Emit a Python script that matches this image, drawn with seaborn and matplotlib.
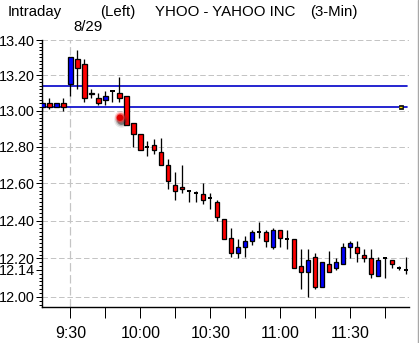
import matplotlib
matplotlib.use("Agg")
import numpy as np
import pandas as pd
import matplotlib.pyplot as plt
import seaborn as sns
from matplotlib.ticker import FixedLocator, FixedFormatter, NullFormatter
from matplotlib.lines import Line2D

# ---------------- data ----------------
times = ["9:18", "9:21", "9:24", "9:27",
         "9:30", "9:33", "9:36", "9:39", "9:42", "9:45", "9:48", "9:51", "9:54", "9:57",
         "10:00", "10:03", "10:06", "10:09", "10:12", "10:15", "10:18", "10:21", "10:24", "10:27",
         "10:30", "10:33", "10:36", "10:39", "10:42", "10:45", "10:48", "10:51", "10:54", "10:57",
         "11:00", "11:03", "11:06", "11:09", "11:12", "11:15", "11:18", "11:21", "11:24", "11:27",
         "11:30", "11:33", "11:36", "11:39", "11:42", "11:45", "11:48", "11:51", "11:54"]
opens = [13.02, 13.04, 13.02, 13.04,
         13.15, 13.29, 13.26, 13.10, 13.07, 13.06, 13.11, 13.10, 13.08, 12.93,
         12.87, 12.80, 12.81, 12.77, 12.70, 12.59, 12.58, 12.56, 12.55, 12.54,
         12.52, 12.50, 12.41, 12.31, 12.23, 12.26, 12.29, 12.34, 12.34, 12.26,
         12.35, 12.30, 12.30, 12.16, 12.13, 12.21, 12.05, 12.17, 12.15, 12.17,
         12.26, 12.26, 12.22, 12.20, 12.11, 12.20, 12.19, 12.15, 12.14]
highs = [13.06, 13.07, 13.04, 13.07,
         13.30, 13.34, 13.29, 13.12, 13.10, 13.11, 13.11, 13.19, 13.08, 12.93,
         12.87, 12.83, 12.84, 12.85, 12.73, 12.66, 12.70, 12.56, 12.56, 12.60,
         12.55, 12.51, 12.41, 12.36, 12.30, 12.32, 12.35, 12.39, 12.35, 12.36,
         12.35, 12.35, 12.30, 12.25, 12.25, 12.23, 12.18, 12.24, 12.20, 12.28,
         12.29, 12.29, 12.25, 12.25, 12.21, 12.20, 12.19, 12.16, 12.21]
lows = [13.00, 13.01, 13.02, 13.00,
        13.08, 13.12, 13.05, 13.07, 13.03, 13.03, 13.05, 13.05, 12.92, 12.80,
        12.78, 12.75, 12.76, 12.70, 12.57, 12.51, 12.55, 12.50, 12.50, 12.49,
        12.46, 12.40, 12.30, 12.21, 12.20, 12.21, 12.27, 12.31, 12.26, 12.25,
        12.26, 12.25, 12.15, 12.04, 12.00, 12.04, 12.05, 12.13, 12.14, 12.17,
        12.20, 12.18, 12.18, 12.10, 12.11, 12.10, 12.15, 12.14, 12.12]
closes = [13.04, 13.02, 13.04, 13.02,
          13.30, 13.24, 13.07, 13.09, 13.04, 13.08, 13.11, 13.07, 12.92, 12.87,
          12.78, 12.80, 12.78, 12.70, 12.61, 12.56, 12.57, 12.56, 12.55, 12.51,
          12.52, 12.42, 12.30, 12.23, 12.26, 12.29, 12.34, 12.34, 12.29, 12.35,
          12.31, 12.30, 12.15, 12.13, 12.19, 12.05, 12.18, 12.13, 12.18, 12.26,
          12.28, 12.23, 12.20, 12.12, 12.19, 12.20, 12.17, 12.15, 12.14]

y_tick_values = [12.00, 12.14, 12.20, 12.40, 12.60, 12.80, 13.00, 13.20, 13.40]
y_tick_labels = ["12.00", "12.14", "12.20", "12.40", "12.60", "12.80", "13.00", "13.20", "13.40"]
grid_levels = [12.00, 12.20, 12.40, 12.60, 12.80, 13.00, 13.20, 13.40]
x_tick_labels = ["9:30", "10:00", "10:30", "11:00", "11:30"]
x_minor_labels = ["9:45", "10:15", "10:45", "11:15", "11:45"]
x_range = ["9:17.7", "11:55.2"]
ref_lines = [13.14, 13.02]
session_start = "9:30"
date_label = "8/29"
cursor_time, cursor_price = "9:51.3", 12.96
marker_time, marker_price = "11:51.7", 13.02
title_parts = ["Intraday", "(Left)", "YHOO - YAHOO INC", "(3-Min)"]


def to_min(t):
    h, m = t.split(":")
    return int(h) * 60 + float(m)


df = pd.DataFrame({"time": times, "open": opens, "high": highs,
                   "low": lows, "close": closes})
df["x"] = df["time"].map(to_min)
up = df[df.close > df.open]
down = df[df.close < df.open]
doji = df[df.close == df.open]

# ---------------- style ----------------
sns.set_theme(style="white")
plt.rcParams["font.family"] = ["Liberation Sans", "DejaVu Sans"]

W, H = 419, 343
fig = plt.figure(figsize=(W / 100, H / 100), dpi=100)
fig.patch.set_facecolor("white")
ax = fig.add_axes([41.7 / W, 1 - 307 / H, (409 - 41.7) / W, (307 - 40) / H])
ax.set_facecolor("white")
ax.set_yscale("log")

px = 0.72
BLUE = "#0000FF"
RED = "#FF0000"
bw = 1.85

# grid
for g in grid_levels:
    ax.axhline(g, color="#C4C4C4", lw=px, ls=(0, (5.5, 2.8)), zorder=1)
ax.axvline(to_min(session_start), color="#C4C4C4", lw=px * 1.2,
           ls=(0, (7, 3)), zorder=1)

# reference lines
for r in ref_lines:
    ax.axhline(r, xmin=0, xmax=0.994, color="#0000C8", lw=1.2, zorder=2)

# candles
ax.vlines(df["x"], df["low"], df["high"], color="black", lw=px * 1.3, zorder=3)
ax.bar(up["x"], up["close"] - up["open"], bottom=up["open"], width=bw,
       color=BLUE, edgecolor="black", lw=px * 1.3, zorder=4)
ax.bar(down["x"], down["open"] - down["close"], bottom=down["close"], width=bw,
       color=RED, edgecolor="black", lw=px * 1.3, zorder=4)
ax.hlines(doji["close"], doji["x"] - bw / 2, doji["x"] + bw / 2,
          color="black", lw=px * 2, zorder=4)

# cursor glow and right-end marker
cx = to_min(cursor_time)
for s, a in [(110, 0.10), (70, 0.2), (40, 0.45)]:
    ax.scatter([cx + 0.6], [cursor_price * 0.9991], s=s, color="#202020",
               alpha=a, lw=0, zorder=5)
for s, a in [(70, 0.25), (40, 0.6)]:
    ax.scatter([cx - 0.2], [cursor_price * 1.0003], s=s, color="#FF3030",
               alpha=a, lw=0, zorder=6)
sns.scatterplot(x=[cx], y=[cursor_price], s=22, color="#E00000",
                edgecolor="none", ax=ax, zorder=7, legend=False)
sns.scatterplot(x=[to_min(marker_time)], y=[marker_price], marker="s", s=12,
                color="#101010", edgecolor="black", linewidth=0.5, ax=ax,
                zorder=6, legend=False)
mx = to_min(marker_time)
ax.hlines([marker_price], mx - 0.7, mx + 0.7, color="#FFE000", lw=0.9, zorder=7)

# axes limits and ticks
ax.set_xlim(to_min(x_range[0]), to_min(x_range[1]))
ax.set_ylim(11.948, 13.40)
ax.xaxis.set_major_locator(FixedLocator([to_min(t) for t in x_tick_labels]))
ax.xaxis.set_major_formatter(FixedFormatter(x_tick_labels))
ax.xaxis.set_minor_locator(FixedLocator([to_min(t) for t in x_minor_labels]))
ax.yaxis.set_major_locator(FixedLocator(y_tick_values))
ax.yaxis.set_major_formatter(FixedFormatter(y_tick_labels))
ax.yaxis.set_minor_locator(FixedLocator(np.round(np.arange(11.96, 13.41, 0.02), 2)))
ax.yaxis.set_minor_formatter(NullFormatter())

ax.tick_params(axis="x", which="both", direction="out", length=8, width=px,
               color="black", pad=6, bottom=True, labelsize=11.5, labelcolor="black")
ax.tick_params(axis="y", which="major", direction="out", length=4.5, width=px,
               color="black", pad=0.5, left=True, labelsize=10.4, labelcolor="black")
ax.tick_params(axis="y", which="minor", direction="out", length=2, width=px,
               color="black", left=True)
for lab in ax.get_xticklabels():
    lab.set_family(["Liberation Sans Narrow", "Liberation Sans"])

for side in ["top", "right"]:
    ax.spines[side].set_visible(False)
for side in ["left", "bottom"]:
    ax.spines[side].set_color("black")
    ax.spines[side].set_linewidth(px * 1.4)
ax.set_xlabel("")
ax.set_ylabel("")

# header texts
ty = 1 - 12 / H
for part, xpos in zip(title_parts, [8, 100, 155, 310]):
    fig.text(xpos / W, ty, part, fontsize=10.8, color="black", va="center", ha="left")
fig.text(73 / W, 1 - 27 / H, date_label, fontsize=10.8, color="black",
         va="center", ha="left")

# window border on the right
fig.add_artist(Line2D([418.3 / W, 418.3 / W], [0, 1], color="#A8A8A8", lw=1.0,
                      transform=fig.transFigure))

fig.savefig("out.png", dpi=100, facecolor="white")
